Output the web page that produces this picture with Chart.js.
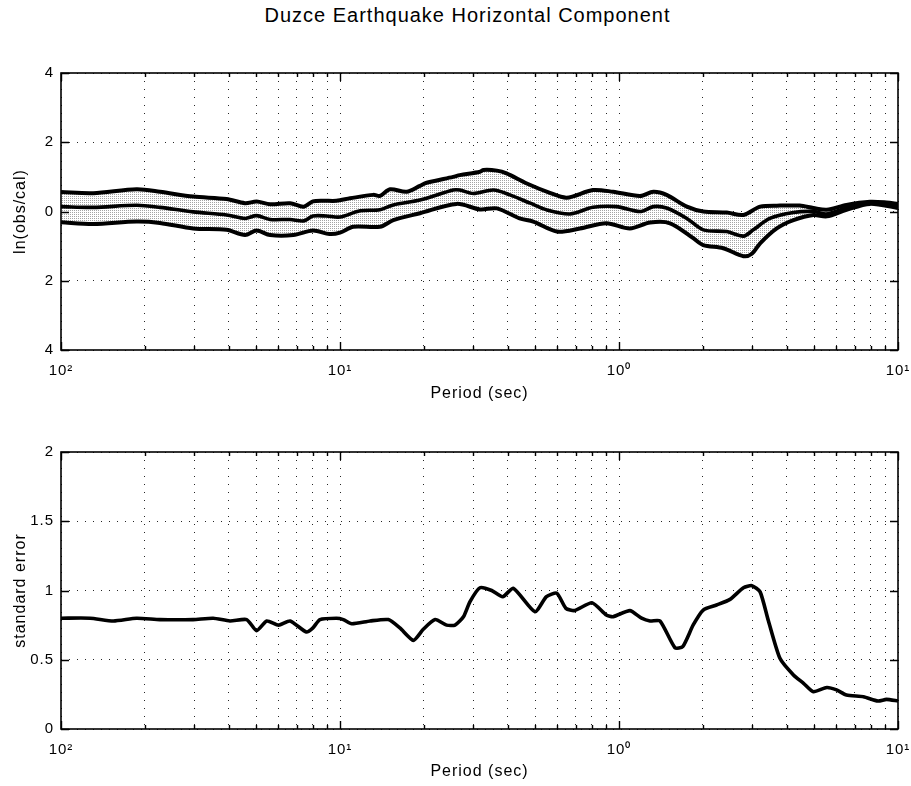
<!DOCTYPE html>
<html>
<head>
<meta charset="utf-8">
<title>Duzce Earthquake Horizontal Component</title>
<script src="https://cdn.jsdelivr.net/npm/chart.js@4.4.1/dist/chart.umd.min.js"></script>
<style>
  html, body { margin: 0; padding: 0; background: #fff; }
  #wrap { position: relative; width: 911px; height: 786px; overflow: hidden; }
  #title {
    position: absolute; left: 0; top: 4px; width: 935px; text-align: center;
    font: 20px "Liberation Sans", Arial, Helvetica, sans-serif; letter-spacing: 1px; color: #000;
  }
  canvas { position: absolute; left: 0; }
</style>
</head>
<body>
<div id="wrap">
  <div id="title">Duzce Earthquake Horizontal Component</div>
  <canvas id="ratioChart" width="911" height="410" style="top:0"></canvas>
  <canvas id="errorChart" width="911" height="376" style="top:410px"></canvas>
</div>
<script>
// Period axis tick positions (decades plus 2..9 minor steps), seconds
const periodTicks = [0.01, 0.02, 0.03, 0.04, 0.05, 0.06, 0.07, 0.08, 0.09,
                     0.1, 0.2, 0.3, 0.4, 0.5, 0.6, 0.7, 0.8, 0.9,
                     1, 2, 3, 4, 5, 6, 7, 8, 9, 10];
const ratioTicks = [-4, -2, 0, 2, 4];
const errorTicks = [0, 0.5, 1, 1.5, 2];

// ln(obs/cal): mean plus/minus one standard error
const upperPeriod = [0.01, 0.01305, 0.01866, 0.02262, 0.02976, 0.03922, 0.04566, 0.05025, 0.05618, 0.06623,
  0.07407, 0.08, 0.08696, 0.09709, 0.1087, 0.1316, 0.1391, 0.1511, 0.1733, 0.1934, 0.2045, 0.2545, 0.2688,
  0.3175, 0.3268, 0.365, 0.3953, 0.4673, 0.565, 0.6494, 0.8065, 0.9524, 1.189, 1.328, 1.481, 1.751, 2.004,
  2.433, 2.793, 3.205, 3.774, 4.444, 4.975, 5.556, 6.536, 7.937, 9.091, 10];
const upperValue = [0.56, 0.53, 0.64, 0.57, 0.43, 0.36, 0.24, 0.29, 0.21, 0.24,
  0.14, 0.29, 0.31, 0.31, 0.38, 0.48, 0.45, 0.64, 0.57, 0.74, 0.83, 1.0, 1.05,
  1.15, 1.2, 1.18, 1.1, 0.81, 0.54, 0.4, 0.62, 0.57, 0.45, 0.57, 0.48, 0.14, 0.0,
  -0.03, -0.1, 0.14, 0.17, 0.17, 0.1, 0.05, 0.19, 0.28, 0.26, 0.22];

const meanPeriod = [0.01, 0.01305, 0.01866, 0.02262, 0.02976, 0.03922, 0.04566, 0.05025, 0.05618, 0.06623,
  0.07407, 0.08, 0.08929, 0.1, 0.1181, 0.1391, 0.1553, 0.1934, 0.2545, 0.2688, 0.3003, 0.3546, 0.4065,
  0.4808, 0.5495, 0.6667, 0.8065, 0.9804, 1.189, 1.328, 1.481, 1.751, 2.004, 2.433, 2.793, 3.03, 3.472,
  4.219, 4.975, 5.556, 6.536, 7.937, 10];
const meanValue = [0.14, 0.12, 0.18, 0.12, -0.01, -0.1, -0.2, -0.12, -0.23, -0.23,
  -0.27, -0.13, -0.13, -0.16, 0.02, 0.05, 0.19, 0.33, 0.62, 0.62, 0.52, 0.62, 0.48,
  0.24, 0.05, -0.07, 0.12, 0.14, 0.0, 0.14, 0.1, -0.2, -0.53, -0.58, -0.71, -0.53, -0.2,
  -0.03, 0.0, -0.07, 0.1, 0.24, 0.17];

const lowerPeriod = [0.01, 0.01305, 0.01866, 0.02262, 0.02976, 0.03922, 0.04566, 0.05025, 0.05618, 0.06803,
  0.08, 0.09174, 0.1, 0.1116, 0.1391, 0.1553, 0.1934, 0.2618, 0.3175, 0.365, 0.4405, 0.4926, 0.5988,
  0.7246, 0.9009, 1.094, 1.292, 1.524, 1.845, 2.004, 2.364, 2.793, 2.994, 3.205, 3.676, 4.219, 4.975,
  5.556, 6.536, 7.937, 10];
const lowerValue = [-0.31, -0.36, -0.29, -0.33, -0.49, -0.53, -0.68, -0.55, -0.68, -0.68,
  -0.55, -0.65, -0.61, -0.44, -0.44, -0.25, -0.05, 0.22, 0.06, 0.09, -0.2, -0.29, -0.58,
  -0.49, -0.34, -0.49, -0.32, -0.34, -0.77, -0.97, -1.06, -1.29, -1.22, -0.92, -0.49, -0.25, -0.1,
  -0.14, 0.05, 0.22, 0.1];

// standard error of ln(obs/cal)
const errorPeriod = [0.01, 0.01271, 0.01541, 0.01866, 0.02262, 0.02976, 0.03509, 0.04032, 0.0463, 0.05025,
  0.05464, 0.06024, 0.06623, 0.07576, 0.08, 0.08475, 0.09709, 0.1028, 0.1101, 0.1282, 0.149, 0.1639,
  0.1832, 0.1988, 0.2193, 0.241, 0.2584, 0.277, 0.2924, 0.3175, 0.3497, 0.3831, 0.4184, 0.5, 0.5495,
  0.5988, 0.6452, 0.6944, 0.8, 0.9009, 0.9524, 1.094, 1.205, 1.292, 1.403, 1.587, 1.692, 1.845, 2.004,
  2.237, 2.5, 2.793, 2.994, 3.205, 3.425, 3.774, 4.219, 4.587, 4.975, 5.556, 6.024, 6.536, 7.519,
  8.475, 9.091, 10];
const errorValue = [0.8, 0.8, 0.78, 0.8, 0.79, 0.79, 0.8, 0.78, 0.79, 0.71,
  0.78, 0.75, 0.78, 0.7, 0.73, 0.79, 0.8, 0.79, 0.76, 0.78, 0.79, 0.73,
  0.64, 0.72, 0.79, 0.75, 0.75, 0.81, 0.92, 1.02, 1.0, 0.955, 1.016, 0.847, 0.955,
  0.98, 0.871, 0.855, 0.912, 0.823, 0.811, 0.855, 0.8, 0.78, 0.78, 0.587, 0.594, 0.751, 0.859,
  0.895, 0.936, 1.02, 1.035, 0.99, 0.787, 0.51, 0.39, 0.33, 0.269, 0.3, 0.282, 0.245, 0.233,
  0.202, 0.214, 0.202];

const FONT = "'Liberation Sans', Arial, Helvetica, sans-serif";
Chart.defaults.font.family = FONT;
Chart.defaults.color = '#000';

// tick labels are printed as 10 with the size of the exponent as superscript
const SUP = { '0': '\u2070', '1': '\u00B9', '2': '\u00B2', '3': '\u00B3' };
const isDecade = v => Math.abs(Math.log10(v) - Math.round(Math.log10(v))) < 1e-9;
const decadeLabel = v => '10' + String(Math.abs(Math.round(Math.log10(v)))).split('').map(c => SUP[c]).join('');
const pts = (xs, ys) => xs.map((x, i) => ({ x, y: ys[i] }));

function stipple() {
  const c = document.createElement('canvas');
  c.width = 2; c.height = 2;
  const g = c.getContext('2d');
  g.fillStyle = '#ffffff';
  g.fillRect(0, 0, 2, 2);
  g.fillStyle = '#a4a4a4';
  g.fillRect(0, 0, 1, 1);
  return g.createPattern(c, 'repeat');
}

// box around the plot area with inward-pointing tick marks
const frame = {
  id: 'frame',
  beforeUpdate(chart) { chart.ctx.letterSpacing = '1px'; },
  afterDatasetsDraw(chart) {
    const { ctx, chartArea: a, scales: { x, y } } = chart;
    ctx.save();
    ctx.strokeStyle = '#000';
    ctx.lineWidth = 1.4;
    ctx.beginPath();
    x.ticks.forEach(t => {
      const px = Math.round(x.getPixelForValue(t.value)) + 0.5;
      const len = isDecade(t.value) ? 8 : 4;
      ctx.moveTo(px, a.bottom); ctx.lineTo(px, a.bottom - len);
      ctx.moveTo(px, a.top); ctx.lineTo(px, a.top + len);
    });
    y.ticks.forEach(t => {
      const py = Math.round(y.getPixelForValue(t.value)) + 0.5;
      ctx.moveTo(a.left, py); ctx.lineTo(a.left + 8, py);
      ctx.moveTo(a.right, py); ctx.lineTo(a.right - 8, py);
    });
    ctx.stroke();
    ctx.lineWidth = 1.6;
    ctx.strokeRect(a.left, a.top, a.right - a.left, a.bottom - a.top);
    ctx.restore();
  }
};

function periodAxis(axisHeight, titleBottom) {
  return {
    type: 'logarithmic',
    min: 0.01, max: 10,
    afterBuildTicks: s => { s.ticks = periodTicks.map(v => ({ value: v })); },
    afterFit: s => { s.height = axisHeight; s.paddingLeft = 0; s.paddingRight = 0; },
    ticks: {
      autoSkip: false, maxRotation: 0, minRotation: 0, padding: 12,
      font: { size: 15 }, color: '#000',
      callback: v => isDecade(v) ? decadeLabel(v) : ''
    },
    grid: { color: 'rgba(0,0,0,0.85)', lineWidth: 1, drawTicks: false },
    border: { display: false, dash: [1, 7] },
    title: { display: true, text: 'Period (sec)', font: { size: 16 }, color: '#000',
             padding: { top: 0, bottom: titleBottom } }
  };
}

function valueAxis(min, max, tickValues, label, fmt) {
  return {
    type: 'linear', min, max,
    afterBuildTicks: s => { s.ticks = tickValues.map(v => ({ value: v })); },
    afterFit: s => { s.width = 61; s.paddingTop = 0; s.paddingBottom = 0; },
    ticks: { padding: 7, font: { size: 15 }, color: '#000', callback: fmt },
    grid: { color: 'rgba(0,0,0,0.85)', lineWidth: 1, drawTicks: false },
    border: { display: false, dash: [1, 7] },
    title: { display: true, text: label, font: { size: 16 }, color: '#000',
             padding: { top: 11, bottom: 0 } }
  };
}

const common = {
  responsive: false,
  animation: false,
  events: [],
  plugins: { legend: { display: false }, tooltip: { enabled: false },
             filler: { drawTime: 'beforeDatasetsDraw' } },
  elements: { point: { radius: 0 } }
};

new Chart(document.getElementById('ratioChart'), {
  type: 'line',
  data: {
    datasets: [
      { data: pts(upperPeriod, upperValue), borderColor: '#000', borderWidth: 4,
        fill: '+2', backgroundColor: stipple(), tension: 0.3 },
      { data: pts(meanPeriod, meanValue), borderColor: '#000', borderWidth: 3.6,
        fill: false, tension: 0.3 },
      { data: pts(lowerPeriod, lowerValue), borderColor: '#000', borderWidth: 4,
        fill: false, tension: 0.3 }
    ]
  },
  options: Object.assign({}, common, {
    layout: { padding: { top: 73, right: 13, left: 0, bottom: 0 } },
    scales: {
      x: periodAxis(60, 7),
      y: valueAxis(-4, 4, ratioTicks, 'ln(obs/cal)', v => String(Math.abs(v)))
    }
  }),
  plugins: [frame]
});

new Chart(document.getElementById('errorChart'), {
  type: 'line',
  data: {
    datasets: [
      { data: pts(errorPeriod, errorValue), borderColor: '#000', borderWidth: 3.6,
        fill: false, tension: 0.2 }
    ]
  },
  options: Object.assign({}, common, {
    layout: { padding: { top: 42, right: 13, left: 0, bottom: 0 } },
    scales: {
      x: periodAxis(57, 5),
      y: valueAxis(0, 2, errorTicks, 'standard error', v => String(v))
    }
  }),
  plugins: [frame]
});
</script>
</body>
</html>
